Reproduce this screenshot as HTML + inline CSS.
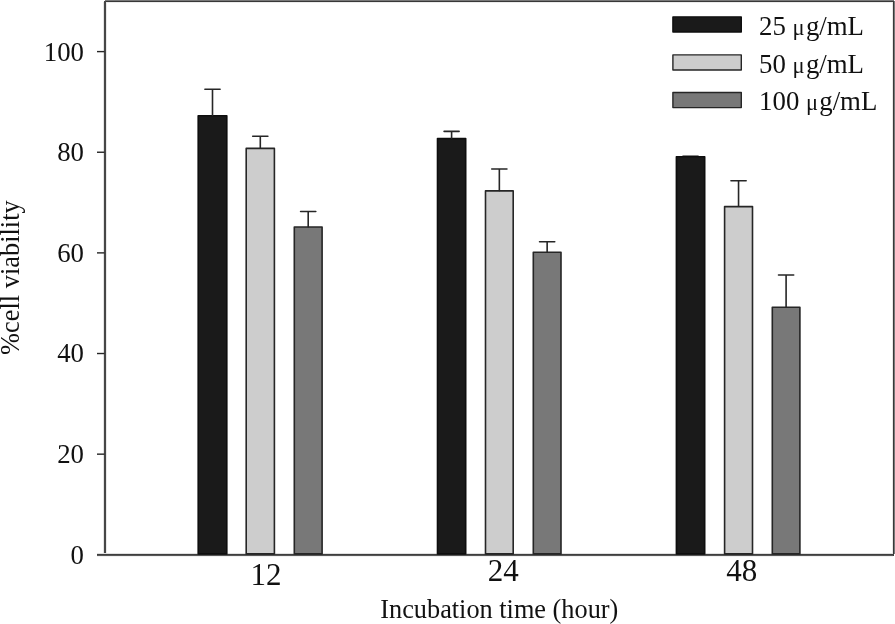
<!DOCTYPE html>
<html><head><meta charset="utf-8">
<style>
html,body{margin:0;padding:0;background:#fff;}
body{width:895px;height:624px;overflow:hidden;}
svg{display:block;will-change:transform;}
text{font-family:"Liberation Serif",serif;fill:#111;}
</style></head><body>
<svg width="895" height="624" viewBox="0 0 895 624">
<g shape-rendering="crispEdges">
<rect x="105" y="0" width="789" height="1" fill="#787878"/>
<rect x="104" y="1" width="790" height="1" fill="#383838"/>
<rect x="106" y="2" width="786" height="1" fill="#ececec"/>
<rect x="892" y="2" width="1" height="552" fill="#e8e8e8"/>
<rect x="893" y="1" width="1" height="555" fill="#383838"/>
<rect x="894" y="1" width="1" height="553" fill="#787878"/>
<rect x="103" y="2" width="1" height="552" fill="#e4e4e4"/>
<rect x="104" y="1" width="2" height="555" fill="#464646"/>
<rect x="106" y="2" width="1" height="552" fill="#e8e8e8"/>
<rect x="97" y="553" width="796" height="1" fill="#e0e0e0"/>
<rect x="97" y="554" width="797" height="1" fill="#3e3e3e"/>
<rect x="97" y="555" width="796" height="1" fill="#575757"/>
<rect x="97" y="556" width="796" height="1" fill="#f0f0f0"/>
</g>
<g fill="#262626">
<rect x="97" y="453.46" width="7.5" height="1.4"/>
<rect x="97" y="352.82" width="7.5" height="1.4"/>
<rect x="97" y="252.18" width="7.5" height="1.4"/>
<rect x="97" y="151.54" width="7.5" height="1.4"/>
<rect x="97" y="50.90" width="7.5" height="1.4"/>
</g>
<g font-size="26.8" text-anchor="end">
<text x="84" y="60.5">100</text>
<text x="84" y="161.0">80</text>
<text x="84" y="261.5">60</text>
<text x="84" y="361.5">40</text>
<text x="84" y="462.5">20</text>
<text x="84" y="563.5">0</text>
</g>
<rect x="198.20" y="115.80" width="28.60" height="438.10" fill="#1a1a1a" stroke="#0e0e0e" stroke-width="1.6" stroke-linejoin="round"/>
<rect x="246.20" y="148.40" width="28.20" height="405.50" fill="#cdcdcd" stroke="#262626" stroke-width="1.6" stroke-linejoin="round"/>
<rect x="294.30" y="227.00" width="27.80" height="326.90" fill="#787878" stroke="#262626" stroke-width="1.6" stroke-linejoin="round"/>
<rect x="437.50" y="138.60" width="28.20" height="415.30" fill="#1a1a1a" stroke="#0e0e0e" stroke-width="1.6" stroke-linejoin="round"/>
<rect x="485.50" y="190.90" width="27.70" height="363.00" fill="#cdcdcd" stroke="#262626" stroke-width="1.6" stroke-linejoin="round"/>
<rect x="533.30" y="252.20" width="27.70" height="301.70" fill="#787878" stroke="#262626" stroke-width="1.6" stroke-linejoin="round"/>
<rect x="676.40" y="156.70" width="28.30" height="397.20" fill="#1a1a1a" stroke="#0e0e0e" stroke-width="1.6" stroke-linejoin="round"/>
<rect x="724.60" y="206.60" width="27.90" height="347.30" fill="#cdcdcd" stroke="#262626" stroke-width="1.6" stroke-linejoin="round"/>
<rect x="772.30" y="307.30" width="27.60" height="246.60" fill="#787878" stroke="#262626" stroke-width="1.6" stroke-linejoin="round"/>
<g stroke="#262626" stroke-width="1.6" fill="none" stroke-linecap="round">
<path d="M212.50 115.50V89.30M204.90 89.30H220.10"/>
<path d="M260.30 148.10V136.20M252.70 136.20H267.90"/>
<path d="M308.20 226.70V211.50M300.60 211.50H315.80"/>
<path d="M451.60 138.30V131.40M444.10 131.40H459.10"/>
<path d="M499.35 190.60V169.00M491.75 169.00H506.95"/>
<path d="M547.15 251.90V241.80M539.55 241.80H554.75"/>
<path d="M682.95 156.30H698.15" stroke="#0e0e0e"/>
<path d="M738.55 206.30V180.80M730.95 180.80H746.15"/>
<path d="M786.10 307.00V275.00M778.50 275.00H793.70"/>
</g>
<g font-size="31" text-anchor="middle">
<text x="266.1" y="584.8">12</text>
<text x="503.2" y="580.6">24</text>
<text x="741.7" y="580.9">48</text>
</g>
<text x="499.3" y="617.9" font-size="26.3" text-anchor="middle">Incubation time (hour)</text>
<text transform="translate(19.1,277.6) rotate(-90)" font-size="26.4" text-anchor="middle">%cell viability</text>
<rect x="672.90" y="16.90" width="68.40" height="15.10" fill="#1a1a1a" stroke="#0e0e0e" stroke-width="1.4" stroke-linejoin="round"/>
<rect x="672.90" y="54.90" width="68.40" height="15.10" fill="#cdcdcd" stroke="#262626" stroke-width="1.4" stroke-linejoin="round"/>
<rect x="672.90" y="92.50" width="68.40" height="15.10" fill="#787878" stroke="#262626" stroke-width="1.4" stroke-linejoin="round"/>
<g font-size="26.8">
<text x="759.1" y="35">25 <tspan font-size="22.5">μ</tspan><tspan dx="1.2">g/mL</tspan></text>
<text x="759.1" y="73">50 <tspan font-size="22.5">μ</tspan><tspan dx="1.2">g/mL</tspan></text>
<text x="759.1" y="110">100 <tspan font-size="22.5">μ</tspan><tspan dx="1.2">g/mL</tspan></text>
</g>
</svg>
</body></html>
